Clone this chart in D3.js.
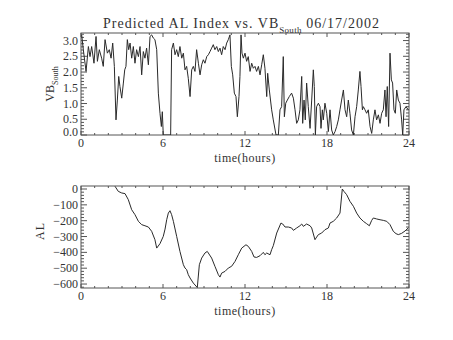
<!DOCTYPE html>
<html>
<head>
<meta charset="utf-8">
<script src="https://cdn.jsdelivr.net/npm/d3@7"></script>
<style>
  html, body { margin: 0; padding: 0; background: #fff; }
  svg text { font-family: "Liberation Serif", "DejaVu Serif", serif; fill: #333; }
</style>
</head>
<body>
<svg id="chart" width="453" height="340"></svg>
<script>
// Time in hours (UT) for the solar-wind driver series
const timeVB = [0.05,0.17,0.37,0.54,0.66,0.78,0.95,1.10,1.20,1.34,1.51,1.63,1.76,1.93,2.07,2.20,2.32,2.44,2.56,2.66,2.76,2.85,2.98,3.10,3.20,3.29,3.39,3.49,3.59,3.71,3.83,3.95,4.07,4.20,4.32,4.44,4.56,4.68,4.80,4.93,5.05,5.17,5.29,5.41,5.54,5.66,5.78,5.88,5.95,6.02,6.56,6.63,6.76,6.88,7.00,7.12,7.24,7.37,7.49,7.61,7.73,7.85,7.98,8.10,8.22,8.34,8.46,8.59,8.71,8.83,8.95,9.07,9.20,9.32,9.44,9.56,9.68,9.80,9.93,10.05,10.17,10.29,10.41,10.54,10.66,10.78,10.90,11.00,11.10,11.22,11.34,11.44,11.56,11.63,11.71,11.78,11.88,12.00,12.12,12.24,12.37,12.49,12.61,12.73,12.85,12.98,13.10,13.22,13.34,13.46,13.59,13.66,13.78,13.95,14.07,14.27,14.44,14.56,14.68,14.80,14.88,14.98,15.10,15.24,15.41,15.54,15.66,15.78,15.90,16.02,16.15,16.22,16.32,16.41,16.51,16.63,16.76,16.88,17.00,17.07,17.15,17.24,17.37,17.49,17.56,17.66,17.73,17.85,17.98,18.10,18.22,18.34,18.46,18.59,18.71,18.83,18.95,19.07,19.20,19.32,19.44,19.56,19.68,19.80,19.93,20.05,20.17,20.29,20.41,20.49,20.59,20.66,20.78,20.90,21.02,21.15,21.27,21.39,21.51,21.63,21.76,21.88,22.00,22.12,22.24,22.32,22.41,22.51,22.61,22.71,22.80,22.90,23.00,23.10,23.22,23.34,23.46,23.54,23.63,23.78,23.95];
// Southward component of V*B
const vbSouth = [3.18,2.71,2.02,2.81,2.49,2.81,2.28,3.13,2.34,2.71,2.44,2.18,3.03,2.60,2.71,2.44,2.92,2.18,0.48,1.11,1.86,1.54,1.17,1.65,2.07,2.18,3.03,2.71,2.92,2.44,2.81,2.28,2.71,2.49,2.81,1.91,2.65,2.44,2.76,2.23,3.13,3.18,3.08,3.03,2.71,1.33,0.69,0.27,0.74,0.00,0.00,2.71,2.92,2.55,2.71,2.49,2.81,2.44,2.60,2.07,2.18,1.80,1.22,2.07,2.18,2.02,2.71,2.28,1.91,2.23,2.39,2.28,2.49,2.55,2.65,2.76,2.87,2.71,2.81,2.65,2.76,2.55,2.81,2.71,2.92,3.03,3.18,2.18,1.91,1.33,1.22,0.58,1.22,1.86,3.18,2.60,2.44,2.60,2.34,2.49,2.02,2.28,2.12,2.18,2.02,2.18,1.91,2.23,2.55,2.12,1.22,1.96,1.43,0.80,0.48,0.00,0.00,0.80,0.90,2.49,0.58,1.01,1.11,1.22,1.33,1.17,0.80,0.37,0.48,0.80,1.86,0.37,1.11,0.48,1.65,0.90,0.21,1.11,2.07,1.54,0.00,0.90,1.01,0.90,0.21,0.80,0.48,1.01,0.69,0.11,0.80,0.16,0.00,0.11,0.27,0.48,0.80,1.11,1.43,0.80,0.58,1.11,0.69,0.16,0.00,0.58,0.90,1.43,2.02,1.54,0.80,0.90,0.80,0.69,0.80,0.27,0.05,0.48,0.80,0.48,0.64,0.37,0.69,0.80,1.43,0.58,1.54,0.27,2.60,1.75,1.65,0.80,0.69,1.43,1.11,1.01,0.48,0.00,0.80,0.90,0.80];

// Time in hours for the predicted AL index
const timeAL = [2.49,2.73,2.98,3.22,3.46,3.71,3.95,4.20,4.44,4.68,4.93,5.17,5.41,5.54,5.78,6.02,6.15,6.27,6.39,6.51,6.63,6.76,7.00,7.24,7.49,7.61,7.73,7.85,7.98,8.22,8.51,8.66,8.83,9.07,9.24,9.56,9.80,10.05,10.17,10.29,10.54,10.78,11.02,11.27,11.51,11.76,12.07,12.24,12.49,12.66,12.85,13.10,13.34,13.46,13.59,13.83,13.95,14.07,14.32,14.63,14.76,14.93,15.17,15.41,15.54,15.78,16.02,16.15,16.27,16.51,16.76,16.88,17.12,17.20,17.37,17.61,17.85,18.10,18.22,18.46,18.71,18.95,19.12,19.24,19.44,19.68,19.93,20.17,20.41,20.66,20.90,21.10,21.27,21.39,21.63,21.88,22.12,22.37,22.61,22.85,23.05,23.22,23.46,23.71,23.95];
// Predicted AL index (nT)
const alIndex = [17,-15,-25,-29,-67,-131,-162,-204,-225,-232,-240,-267,-320,-373,-345,-299,-253,-194,-152,-137,-162,-204,-299,-394,-478,-499,-509,-541,-562,-594,-622,-478,-436,-404,-394,-436,-488,-541,-556,-531,-520,-499,-488,-457,-415,-373,-352,-362,-394,-429,-432,-421,-400,-415,-404,-415,-383,-358,-278,-215,-221,-240,-240,-246,-261,-246,-232,-221,-236,-221,-232,-246,-320,-309,-288,-278,-257,-246,-215,-204,-183,-152,0,-15,-36,-78,-109,-152,-183,-204,-219,-232,-198,-183,-189,-194,-198,-204,-225,-267,-282,-288,-280,-265,-245];

const hourTicks = [0, 6, 12, 18, 24];
const vbTicks = [0, 0.5, 1.0, 1.5, 2.0, 2.5, 3.0];
const alTicks = [0, -100, -200, -300, -400, -500, -600];

const svg = d3.select("#chart");
const inkAxis = "#555";
const inkLine = "#2a2a2a";

const left = 81, right = 409;
const x = d3.scaleLinear().domain([0, 24]).range([left, right]);
const minorHours = d3.range(0, 25, 1);

function panel(top, bottom, y, majors, minors, fmt, data, xs) {
  const g = svg.append("g");
  const tickY = 6, tickX = 3;

  // frame
  g.append("rect").attr("x", left).attr("y", top)
    .attr("width", right - left).attr("height", bottom - top)
    .attr("fill", "none").attr("stroke", inkAxis).attr("stroke-width", 1);

  const tickLayer = g.append("g").attr("stroke", inkAxis).attr("stroke-width", 1);
  // x ticks, bottom and top, pointing inward
  minorHours.forEach(h => {
    const major = h % 6 === 0;
    const len = major ? tickX + 1 : tickX - 1;
    tickLayer.append("line").attr("x1", x(h)).attr("x2", x(h))
      .attr("y1", bottom).attr("y2", bottom - len);
    tickLayer.append("line").attr("x1", x(h)).attr("x2", x(h))
      .attr("y1", top).attr("y2", top + len);
  });
  // y ticks, left and right, pointing inward
  minors.forEach(v => {
    const major = majors.some(m => Math.abs(m - v) < 1e-9);
    const len = major ? tickY : tickY / 2;
    tickLayer.append("line").attr("y1", y(v)).attr("y2", y(v))
      .attr("x1", left).attr("x2", left + len);
    tickLayer.append("line").attr("y1", y(v)).attr("y2", y(v))
      .attr("x1", right).attr("x2", right - len);
  });

  // y tick labels
  majors.forEach(v => {
    const yy = Math.min(y(v), bottom - 3);
    g.append("text").attr("x", 78).attr("y", yy + 4)
      .attr("text-anchor", "end").attr("font-size", 12).text(fmt(v));
  });
  // x tick labels
  hourTicks.forEach(h => {
    g.append("text").attr("x", x(h)).attr("y", bottom + 12)
      .attr("text-anchor", "middle").attr("font-size", 12).text(h);
  });
  g.append("text").attr("x", (left + right) / 2).attr("y", bottom + 26.5)
    .attr("text-anchor", "middle").attr("font-size", 12)
    .attr("letter-spacing", 0.5).text("time(hours)");

  // data line, clipped to the frame
  const clipId = "clip" + top;
  svg.append("clipPath").attr("id", clipId).append("rect")
    .attr("x", left).attr("y", top).attr("width", right - left).attr("height", bottom - top);
  const line = d3.line().x((d, i) => x(xs[i])).y(d => y(d));
  g.append("path").datum(data).attr("d", line)
    .attr("clip-path", `url(#${clipId})`)
    .attr("fill", "none").attr("stroke", inkLine).attr("stroke-width", 1);
  return g;
}

// upper panel: VB south
const yVB = d3.scaleLinear().domain([0, 3.24]).range([135, 33]);
panel(33, 135, yVB, vbTicks, d3.range(0, 3.21, 0.1).map(v => +v.toFixed(1)),
  d3.format(".1f"), vbSouth, timeVB);

// lower panel: AL index
const yAL = d3.scaleLinear().domain([-625, 19]).range([288, 186]);
panel(186, 288, yAL, alTicks, d3.range(-620, 1, 20), d3.format("d"), alIndex, timeAL);

// title
const title = svg.append("text").attr("x", 103).attr("y", 28)
  .attr("font-size", 14).attr("letter-spacing", 1);
title.append("tspan").text("Predicted AL Index vs. VB");
title.append("tspan").attr("font-size", 9).attr("dy", 5).attr("letter-spacing", 0.3).text("South");
svg.append("text").attr("x", 380).attr("y", 28).attr("text-anchor", "end")
  .attr("font-size", 14).attr("letter-spacing", 1).text("06/17/2002");

// y-axis titles
const yt = svg.append("text").attr("transform", "translate(54,84) rotate(-90)")
  .attr("text-anchor", "middle").attr("font-size", 12);
yt.append("tspan").text("VB");
yt.append("tspan").attr("font-size", 8).attr("dy", 4).text("South");

svg.append("text").attr("transform", "translate(44,231) rotate(-90)")
  .attr("text-anchor", "middle").attr("font-size", 12).attr("letter-spacing", 1).text("AL");
</script>
</body>
</html>
